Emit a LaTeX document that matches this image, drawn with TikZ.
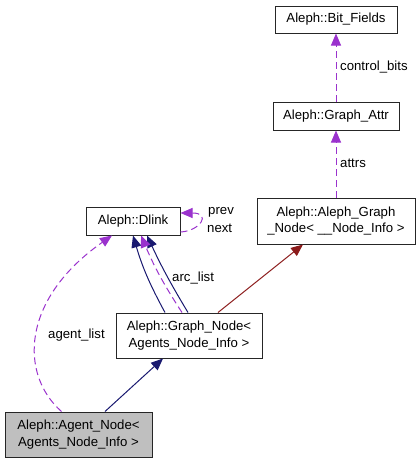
\documentclass[tikz,border=0pt]{standalone}
\usepackage{fontspec}
\setmainfont{Liberation Sans}
\usetikzlibrary{arrows.meta,calc}
\definecolor{edgeblue}{HTML}{191970}
\definecolor{edgered}{HTML}{8B1A1A}
\definecolor{edgepurple}{HTML}{9A32CD}
\definecolor{boxgray}{HTML}{BFBFBF}
\tikzset{
  cls/.style={draw=black!85, line width=1pt, fill=white, inner sep=0pt, align=center,
    font=\fontsize{13.2}{16.5}\selectfont},
  lbl/.style={inner sep=0pt, anchor=west, font=\fontsize{13.2}{16.5}\selectfont},
  tip/.style={-{Triangle[length=12pt,width=10pt]}},
  inherit/.style={tip, draw=edgeblue, line width=1pt},
  redinh/.style={tip, draw=edgered, line width=1pt},
  usage/.style={tip, draw=edgepurple, line width=1pt, dash pattern=on 7pt off 4pt},
}
\begin{document}
\begin{tikzpicture}[x=1pt,y=-1pt]
\useasboundingbox (0,0) rectangle (420,464);
\node[cls, minimum width=122pt, minimum height=27pt] (bf) at (336,19.5) {Aleph::Bit\_Fields};
\node[cls, minimum width=126pt, minimum height=28pt] (ga) at (336,116) {Aleph::Graph\_Attr};
\node[cls, minimum width=158pt, minimum height=46pt] (agn) at (336,221) {Aleph::Aleph\_Graph\\\_Node< \_\_Node\_Info >};
\node[cls, minimum width=94pt, minimum height=28pt] (dl) at (133,221) {Aleph::Dlink};
\node[cls, minimum width=146pt, minimum height=45pt] (gn) at (189,335.5) {Aleph::Graph\_Node<\\Agents\_Node\_Info >};
\node[cls, fill=boxgray, minimum width=147pt, minimum height=45pt] (an) at (78.5,434.5) {Aleph::Agent\_Node<\\Agents\_Node\_Info >};

% usage edges
\draw[usage] (ga.north) -- (bf.south);
\node[lbl] (lcb) at (340,67) {control\_bits};
\draw[usage] (agn.north) -- (ga.south);
\node[lbl] (lat) at (340,163) {attrs};

% red inheritance
\draw[redinh] ($(gn.north)+(29,0)$) -- ($(agn.south)+(-33,0)$);

% Graph_Node -> Dlink
\draw[inherit] ($(gn.north)+(-24,0)$) to[bend left=6] ($(dl.south)+(0,0)$);
\draw[inherit] ($(gn.north)+(-1,0)$) to[bend left=3] ($(dl.south)+(14,0)$);
\draw[usage] ($(gn.north)+(-7,0)$) to[bend left=5] ($(dl.south)+(8,0)$);
\node[lbl] (lal) at (172,278) {arc\_list};

% self loop
\draw[usage] ($(dl.east)+(0,11)$) .. controls (200,231) and (212,213) .. ($(dl.east)+(0,-8)$);
\node[lbl] (lprev) at (208,212) {prev};
\node[lbl] (lnext) at (207,228) {next};

% agent_list
\draw[usage] ($(an.north)+(-17,0)$) .. controls (20,375) and (20,300) .. ($(dl.south)+(-21,0)$);
\node[lbl] (lag) at (48,335) {agent\_list};

% Agent_Node -> Graph_Node
\draw[inherit] ($(an.north)+(26.5,0)$) -- ($(gn.south)+(-26,0)$);
\end{tikzpicture}
\end{document}
